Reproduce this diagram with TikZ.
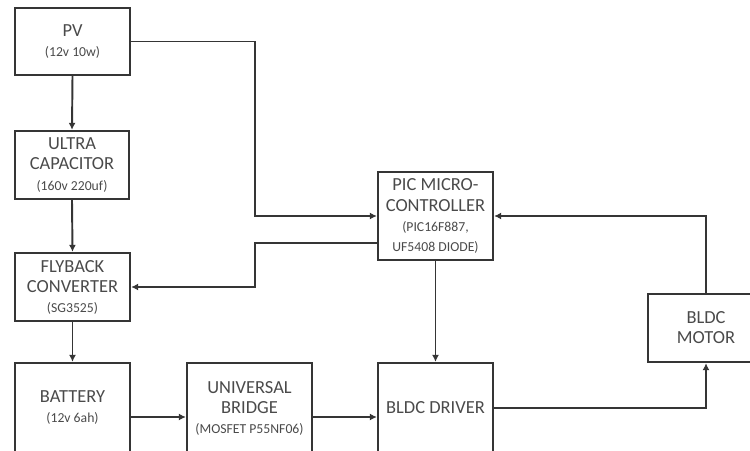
\documentclass[tikz,border=0pt]{standalone}
\usepackage{fontspec}
\setmainfont{Carlito}
\usetikzlibrary{arrows.meta, calc}

\definecolor{linegray}{HTML}{353535}
\definecolor{textgray}{HTML}{4A4A4A}
\newcommand{\bigf}{\fontsize{10.5}{11.4}\selectfont}
\newcommand{\smf}{\fontsize{7.8}{11.4}\selectfont}

\tikzset{
    blk/.style={draw=linegray, line width=1.3pt, align=center, text=textgray, font=\bigf, inner sep=2pt},
    arr/.style={draw=linegray, line width=1.1pt, -{Latex[length=4pt,width=4pt]}}
}

\begin{document}
\begin{tikzpicture}[x=0.02cm, y=-0.02cm]

\useasboundingbox (0,0) rectangle (750,450);
\clip (0,0) rectangle (750,450);

% left column
\node[blk, minimum width=2.3cm, minimum height=1.34cm] (pv) at (72.5,41.5) {PV\\{\smf (12v 10w)}};
\node[blk, minimum width=2.28cm, minimum height=1.36cm] (ucap) at (72,165) {ULTRA\\CAPACITOR\\{\smf (160v 220uf)}};
\node[blk, minimum width=2.3cm, minimum height=1.36cm] (fly) at (72.5,287) {FLYBACK\\CONVERTER\\{\smf (SG3525)}};
\node[blk, minimum width=2.3cm, minimum height=1.8cm] (bat) at (72.5,408) {BATTERY\\{\smf (12v 6ah)}};

% bottom row
\node[blk, minimum width=2.5cm, minimum height=1.8cm] (brg) at (249.5,408) {UNIVERSAL\\BRIDGE\\{\smf (MOSFET P55NF06)}};
\node[blk, minimum width=2.3cm, minimum height=1.8cm] (drv) at (435.5,408) {BLDC DRIVER};

% controller and motor
\node[blk, minimum width=2.3cm, minimum height=1.76cm] (pic) at (435.5,216) {PIC MICRO-\\CONTROLLER\\{\smf (PIC16F887,}\\{\smf UF5408 DIODE)}};
\node[blk, minimum width=2.32cm, minimum height=1.36cm] (mot) at (706,328) {BLDC\\MOTOR};

\coordinate (bend) at (255,0);
\coordinate (picout) at ([yshift=-0.54cm]pic.west);

\draw[arr] (pv.south) -- (ucap.north);
\draw[arr] (ucap.south) -- (fly.north);
\draw[arr] (fly.south) -- (bat.north);
\draw[arr] (pv.east) -| (bend |- pic.west) -- (pic.west);
\draw[arr] (picout) -- (picout -| bend) |- (fly.east);
\draw[arr] ([yshift=-0.18cm]bat.east) -- ([yshift=-0.18cm]brg.west);
\draw[arr] ([yshift=-0.18cm]brg.east) -- ([yshift=-0.18cm]drv.west);
\draw[arr] (pic.south) -- (drv.north);
\draw[arr] (drv.east) -| (mot.south);
\draw[arr] (mot.north) |- (pic.east);
\end{tikzpicture}
\end{document}
